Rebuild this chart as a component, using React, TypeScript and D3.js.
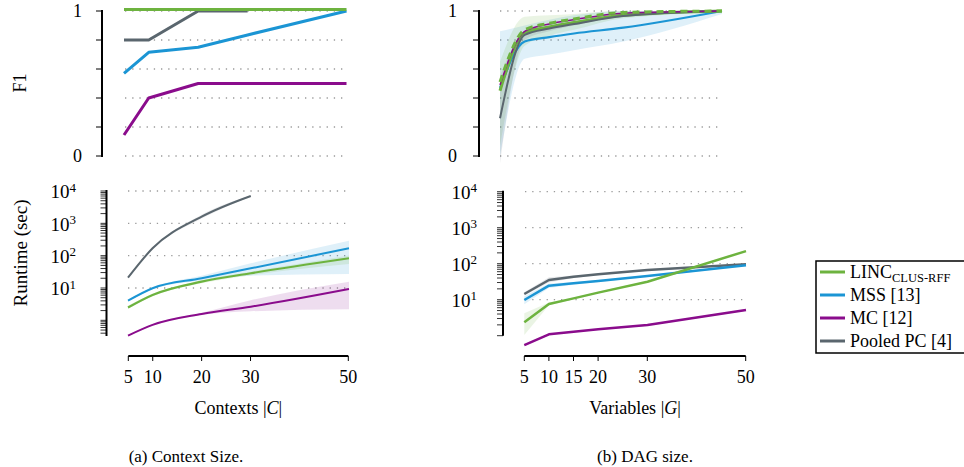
import React from "react";
import * as d3 from "d3";

// x values
const contexts = [5, 10, 20, 30, 50];
const variables = [5, 10, 15, 20, 30, 50];
const contextTicks = [5, 10, 20, 30, 50];
const variableTicks = [5, 10, 15, 20, 30, 50];
const f1Ticks = [0, 0.2, 0.4, 0.6, 0.8, 1];
const f1Labels = [0, 1];
const runtimeMajor = [1, 2, 3, 4];

// (a) F1 vs contexts
const f1CtxLinc = [1.01, 1.01, 1.01, 1.01, 1.01];
const f1CtxMss = [0.57, 0.715, 0.75, 0.835, 1.0];
const f1CtxMc = [0.145, 0.4, 0.5, 0.5, 0.5];
const f1CtxPooled = [0.8, 0.8, 1.0, 1.0];

// (a) runtime vs contexts
const rtCtxLinc = [2.5, 6.1, 15.7, 28.5, 83];
const rtCtxLincLo = [2.3, 5.6, 14, 25, 55];
const rtCtxLincHi = [2.8, 6.6, 17.5, 32, 102];
const rtCtxMss = [4.05, 9.8, 20, 40.6, 169];
const rtCtxMssLo = [3.8, 9.2, 17, 24, 27];
const rtCtxMssHi = [4.3, 10.5, 24, 58, 290];
const rtCtxMc = [0.335, 0.72, 1.57, 2.64, 9.3];
const rtCtxMcLo = [0.32, 0.69, 1.45, 1.9, 2.2];
const rtCtxMcHi = [0.35, 0.76, 1.7, 4.2, 15.7];
const rtCtxPooled = [20.8, 169, 1607, 7010];
const rtCtxPooledLo = [20, 160, 1400, 6800];
const rtCtxPooledHi = [21.6, 178, 1850, 7200];

// (b) F1 vs variables
const f1VarLinc = [0.45, 0.85, 0.89, 0.92, 0.97, 1.0];
const f1VarLincLo = [0.07, 0.76, 0.83, 0.87, 0.95, 0.99];
const f1VarLincHi = [0.65, 0.96, 0.97, 0.98, 1.0, 1.0];
const f1VarLincDashed = [0.51, 0.87, 0.915, 0.945, 0.99, 1.0];
const f1VarMss = [0.47, 0.79, 0.82, 0.845, 0.885, 1.0];
const f1VarMssLo = [0.0, 0.67, 0.7, 0.73, 0.79, 0.98];
const f1VarMssHi = [0.86, 0.9, 0.94, 0.97, 1.0, 1.0];
const f1VarMc = [0.49, 0.86, 0.91, 0.94, 0.985, 1.0];
const f1VarPooled = [0.26, 0.835, 0.88, 0.91, 0.965, 1.0];
const f1VarPooledLo = [-0.05, 0.8, 0.86, 0.9, 0.96, 1.0];
const f1VarPooledHi = [0.55, 0.86, 0.9, 0.93, 0.97, 1.0];

// (b) runtime vs variables
const rtVarLinc = [2.36, 7.6, 10.9, 15.7, 31.6, 224];
const rtVarLincLo = [1.05, 7, 10.3, 15, 30.5, 215];
const rtVarLincHi = [4.2, 8.3, 11.5, 16.5, 33, 234];
const rtVarMss = [9.8, 24.5, 28.5, 33, 45.5, 91];
const rtVarMssLo = [7.5, 21, 26, 31, 43, 87];
const rtVarMssHi = [12.5, 28, 31, 35, 48, 95];
const rtVarMc = [0.55, 1.09, 1.29, 1.5, 1.98, 5.18];
const rtVarMcLo = [0.52, 1.04, 1.23, 1.43, 1.9, 4.9];
const rtVarMcHi = [0.58, 1.14, 1.35, 1.57, 2.06, 5.45];
const rtVarPooled = [14.4, 35.2, 43.6, 50.7, 66.8, 96];
const rtVarPooledLo = [13, 30, 40, 48, 64, 93];
const rtVarPooledHi = [16, 42, 47, 53, 70, 99];

const legendNames = ["LINC", "MSS [13]", "MC [12]", "Pooled PC [4]"];

const GREEN = "#6db33f";
const BLUE = "#1b95d4";
const PURPLE = "#8a0c8c";
const GRAY = "#5a666e";
const legendColors = [GREEN, BLUE, PURPLE, GRAY];

const FONT = "Liberation Serif, Times New Roman, serif";
const txt = { fontFamily: FONT };

type Series = {
  xs: number[];
  ys: number[];
  lo?: number[];
  hi?: number[];
  color: string;
  width: number;
  dash?: string;
};

type Scale = (v: number) => number;

function Plot({ series, x, y, curve }: { series: Series[]; x: Scale; y: Scale; curve: d3.CurveFactory }) {
  const line = d3
    .line<[number, number]>()
    .x((d) => x(d[0]))
    .y((d) => y(d[1]))
    .curve(curve);
  const area = d3
    .area<[number, number, number]>()
    .x((d) => x(d[0]))
    .y0((d) => y(d[1]))
    .y1((d) => y(d[2]))
    .curve(curve);
  return (
    <g>
      {series
        .filter((s) => s.lo && s.hi)
        .map((s, i) => (
          <path
            key={"b" + i}
            d={area(s.xs.slice(0, s.ys.length).map((v, j) => [v, s.lo![j], s.hi![j]])) || ""}
            fill={s.color}
            fillOpacity={0.14}
            stroke="none"
          />
        ))}
      {series.map((s, i) => (
        <path
          key={"l" + i}
          d={line(s.ys.map((v, j) => [s.xs[j], v])) || ""}
          fill="none"
          stroke={s.color}
          strokeWidth={s.width}
          strokeDasharray={s.dash}
          strokeLinejoin="round"
        />
      ))}
    </g>
  );
}

function Grid({ x0, x1, ys }: { x0: number; x1: number; ys: number[] }) {
  return (
    <g>
      {ys.map((v, i) => (
        <line key={i} x1={x0} x2={x1} y1={v} y2={v} stroke="#9a9a9a" strokeWidth={1.3} strokeDasharray="1.3 5.9" />
      ))}
    </g>
  );
}

function LinAxis({ y, axisX, labelX }: { y: d3.ScaleLinear<number, number>; axisX: number; labelX: number }) {
  return (
    <g>
      <line x1={axisX} x2={axisX} y1={y(1) - 1} y2={y(0) + 1} stroke="#000" strokeWidth={2} />
      {f1Ticks.map((t) => (
        <line key={t} x1={axisX - 6} x2={axisX} y1={y(t)} y2={y(t)} stroke="#000" strokeWidth={1} />
      ))}
      {f1Labels.map((t) => (
        <text key={t} x={labelX} y={y(t)} dy="0.35em" textAnchor="end" fontSize={18} style={txt}>
          {t}
        </text>
      ))}
    </g>
  );
}

function LogAxis({ y, axisX, labelX }: { y: d3.ScaleLogarithmic<number, number>; axisX: number; labelX: number }) {
  const [d0, d1] = y.domain();
  const minor: number[] = [];
  for (let e = -1; e <= 4; e++) {
    for (let k = 1; k <= 9; k++) {
      const v = k * Math.pow(10, e);
      if (v >= d0 && v <= d1) minor.push(v);
    }
  }
  return (
    <g>
      <line x1={axisX} x2={axisX} y1={y(d1) - 1} y2={y(d0)} stroke="#000" strokeWidth={2} />
      {minor.map((v, i) => (
        <line key={i} x1={axisX - 6} x2={axisX} y1={y(v)} y2={y(v)} stroke="#000" strokeWidth={0.8} />
      ))}
      {runtimeMajor.map((e) => (
        <text key={e} x={labelX} y={y(Math.pow(10, e))} dy="0.38em" textAnchor="end" fontSize={19} style={txt}>
          10
          <tspan dy="-0.5em" fontSize={13}>
            {e}
          </tspan>
        </text>
      ))}
    </g>
  );
}

function XAxis({ x, y0, ticks, label }: { x: d3.ScaleLinear<number, number>; y0: number; ticks: number[]; label: React.ReactNode }) {
  const [r0, r1] = x.range();
  return (
    <g>
      <line x1={r0} x2={r1} y1={y0} y2={y0} stroke="#000" strokeWidth={2} />
      {ticks.map((t) => (
        <line key={t} x1={x(t)} x2={x(t)} y1={y0} y2={y0 + 5} stroke="#000" strokeWidth={1} />
      ))}
      {ticks.map((t) => (
        <text key={"l" + t} x={x(t)} y={y0 + 27} textAnchor="middle" fontSize={18} style={txt}>
          {t}
        </text>
      ))}
      <text x={(r0 + r1) / 2} y={y0 + 58} textAnchor="middle" fontSize={18} style={txt}>
        {label}
      </text>
    </g>
  );
}

export default function App() {
  // (a) panels
  const xTL = d3.scaleLinear().domain([5, 50]).range([124, 346.5]);
  const yTL = d3.scaleLinear().domain([0, 1]).range([156, 11]);
  const xBL = d3.scaleLinear().domain([5, 50]).range([128, 349]);
  const yBL = d3.scaleLog().domain([Math.pow(10, -0.485), 1e4]).range([336, 191]);
  const xAL = d3.scaleLinear().domain([5, 50]).range([128.3, 348.3]);
  // (b) panels
  const xTR = d3.scaleLinear().domain([5, 50]).range([500, 722]);
  const yTR = d3.scaleLinear().domain([0, 1]).range([156, 11]);
  const xBR = d3.scaleLinear().domain([5, 50]).range([524.3, 746]);
  const yBR = d3.scaleLog().domain([1, 1e4]).range([335.7, 191.7]);
  const xAR = d3.scaleLinear().domain([5, 50]).range([524.3, 745.7]);

  const f1Ctx: Series[] = [
    { xs: contexts, ys: f1CtxMc, color: PURPLE, width: 3 },
    { xs: contexts, ys: f1CtxMss, color: BLUE, width: 3 },
    { xs: contexts, ys: f1CtxPooled, color: GRAY, width: 3 },
    { xs: contexts, ys: f1CtxLinc, color: GREEN, width: 3 },
  ];
  const rtCtx: Series[] = [
    { xs: contexts, ys: rtCtxMc, lo: rtCtxMcLo, hi: rtCtxMcHi, color: PURPLE, width: 2 },
    { xs: contexts, ys: rtCtxMss, lo: rtCtxMssLo, hi: rtCtxMssHi, color: BLUE, width: 2 },
    { xs: contexts, ys: rtCtxLinc, lo: rtCtxLincLo, hi: rtCtxLincHi, color: GREEN, width: 2.2 },
    { xs: contexts, ys: rtCtxPooled, lo: rtCtxPooledLo, hi: rtCtxPooledHi, color: GRAY, width: 2 },
  ];
  const f1Var: Series[] = [
    { xs: variables, ys: f1VarMss, lo: f1VarMssLo, hi: f1VarMssHi, color: BLUE, width: 2.2 },
    { xs: variables, ys: f1VarLinc, lo: f1VarLincLo, hi: f1VarLincHi, color: GREEN, width: 3 },
    { xs: variables, ys: f1VarPooled, lo: f1VarPooledLo, hi: f1VarPooledHi, color: GRAY, width: 2 },
    { xs: variables, ys: f1VarMc, color: PURPLE, width: 1.5 },
    { xs: variables, ys: f1VarLincDashed, color: GREEN, width: 3, dash: "7 5" },
  ];
  const rtVar: Series[] = [
    { xs: variables, ys: rtVarMc, lo: rtVarMcLo, hi: rtVarMcHi, color: PURPLE, width: 2.5 },
    { xs: variables, ys: rtVarPooled, lo: rtVarPooledLo, hi: rtVarPooledHi, color: GRAY, width: 2.5 },
    { xs: variables, ys: rtVarMss, lo: rtVarMssLo, hi: rtVarMssHi, color: BLUE, width: 2.5 },
    { xs: variables, ys: rtVarLinc, lo: rtVarLincLo, hi: rtVarLincHi, color: GREEN, width: 2.5 },
  ];

  return (
    <svg width={964} height={467} style={{ position: "absolute", left: 0, top: 0, background: "#fff" }}>
      {/* (a) Context size */}
      <Grid x0={125} x1={345} ys={f1Ticks.map((t) => yTL(t))} />
      <LinAxis y={yTL} axisX={102} labelX={82} />
      <Plot series={f1Ctx} x={xTL} y={yTL} curve={d3.curveLinear} />
      <text transform="translate(20,83) rotate(-90)" textAnchor="middle" dy="0.35em" fontSize={18} style={txt}>
        F1
      </text>

      <Grid x0={128} x1={347} ys={runtimeMajor.map((e) => yBL(Math.pow(10, e)))} />
      <LogAxis y={yBL} axisX={106.5} labelX={76} />
      <Plot series={rtCtx} x={xBL} y={yBL} curve={d3.curveMonotoneX} />
      <text transform="translate(20,253) rotate(-90)" textAnchor="middle" dy="0.35em" fontSize={19} style={txt}>
        Runtime (sec)
      </text>

      <XAxis
        x={xAL}
        y0={356}
        ticks={contextTicks}
        label={
          <>
            Contexts |<tspan fontStyle="italic">C</tspan>|
          </>
        }
      />

      {/* (b) DAG size */}
      <Grid x0={500} x1={718} ys={f1Ticks.map((t) => yTR(t))} />
      <LinAxis y={yTR} axisX={479} labelX={457} />
      <Plot series={f1Var} x={xTR} y={yTR} curve={d3.curveMonotoneX} />

      <Grid x0={525} x1={743} ys={runtimeMajor.map((e) => yBR(Math.pow(10, e)))} />
      <LogAxis y={yBR} axisX={503} labelX={477} />
      <Plot series={rtVar} x={xBR} y={yBR} curve={d3.curveLinear} />

      <XAxis
        x={xAR}
        y0={356}
        ticks={variableTicks}
        label={
          <>
            Variables |<tspan fontStyle="italic">G</tspan>|
          </>
        }
      />

      {/* legend */}
      <rect x={816} y={261} width={150} height={92} fill="#fff" stroke="#000" strokeWidth={1.5} />
      {legendNames.map((name, i) => (
        <g key={name} transform={`translate(820,${272 + i * 23})`}>
          <line x1={0} x2={25} y1={0} y2={0} stroke={legendColors[i]} strokeWidth={3} />
          <text x={30} y={0} dy="0.35em" fontSize={18} style={txt}>
            {name}
            {i === 0 && (
              <tspan dy="0.3em" fontSize={12.5}>
                CLUS-RFF
              </tspan>
            )}
          </text>
        </g>
      ))}

      {/* captions */}
      <text x={186} y={462} textAnchor="middle" fontSize={17} style={txt}>
        (a) Context Size.
      </text>
      <text x={645} y={462} textAnchor="middle" fontSize={17} style={txt}>
        (b) DAG size.
      </text>
    </svg>
  );
}
